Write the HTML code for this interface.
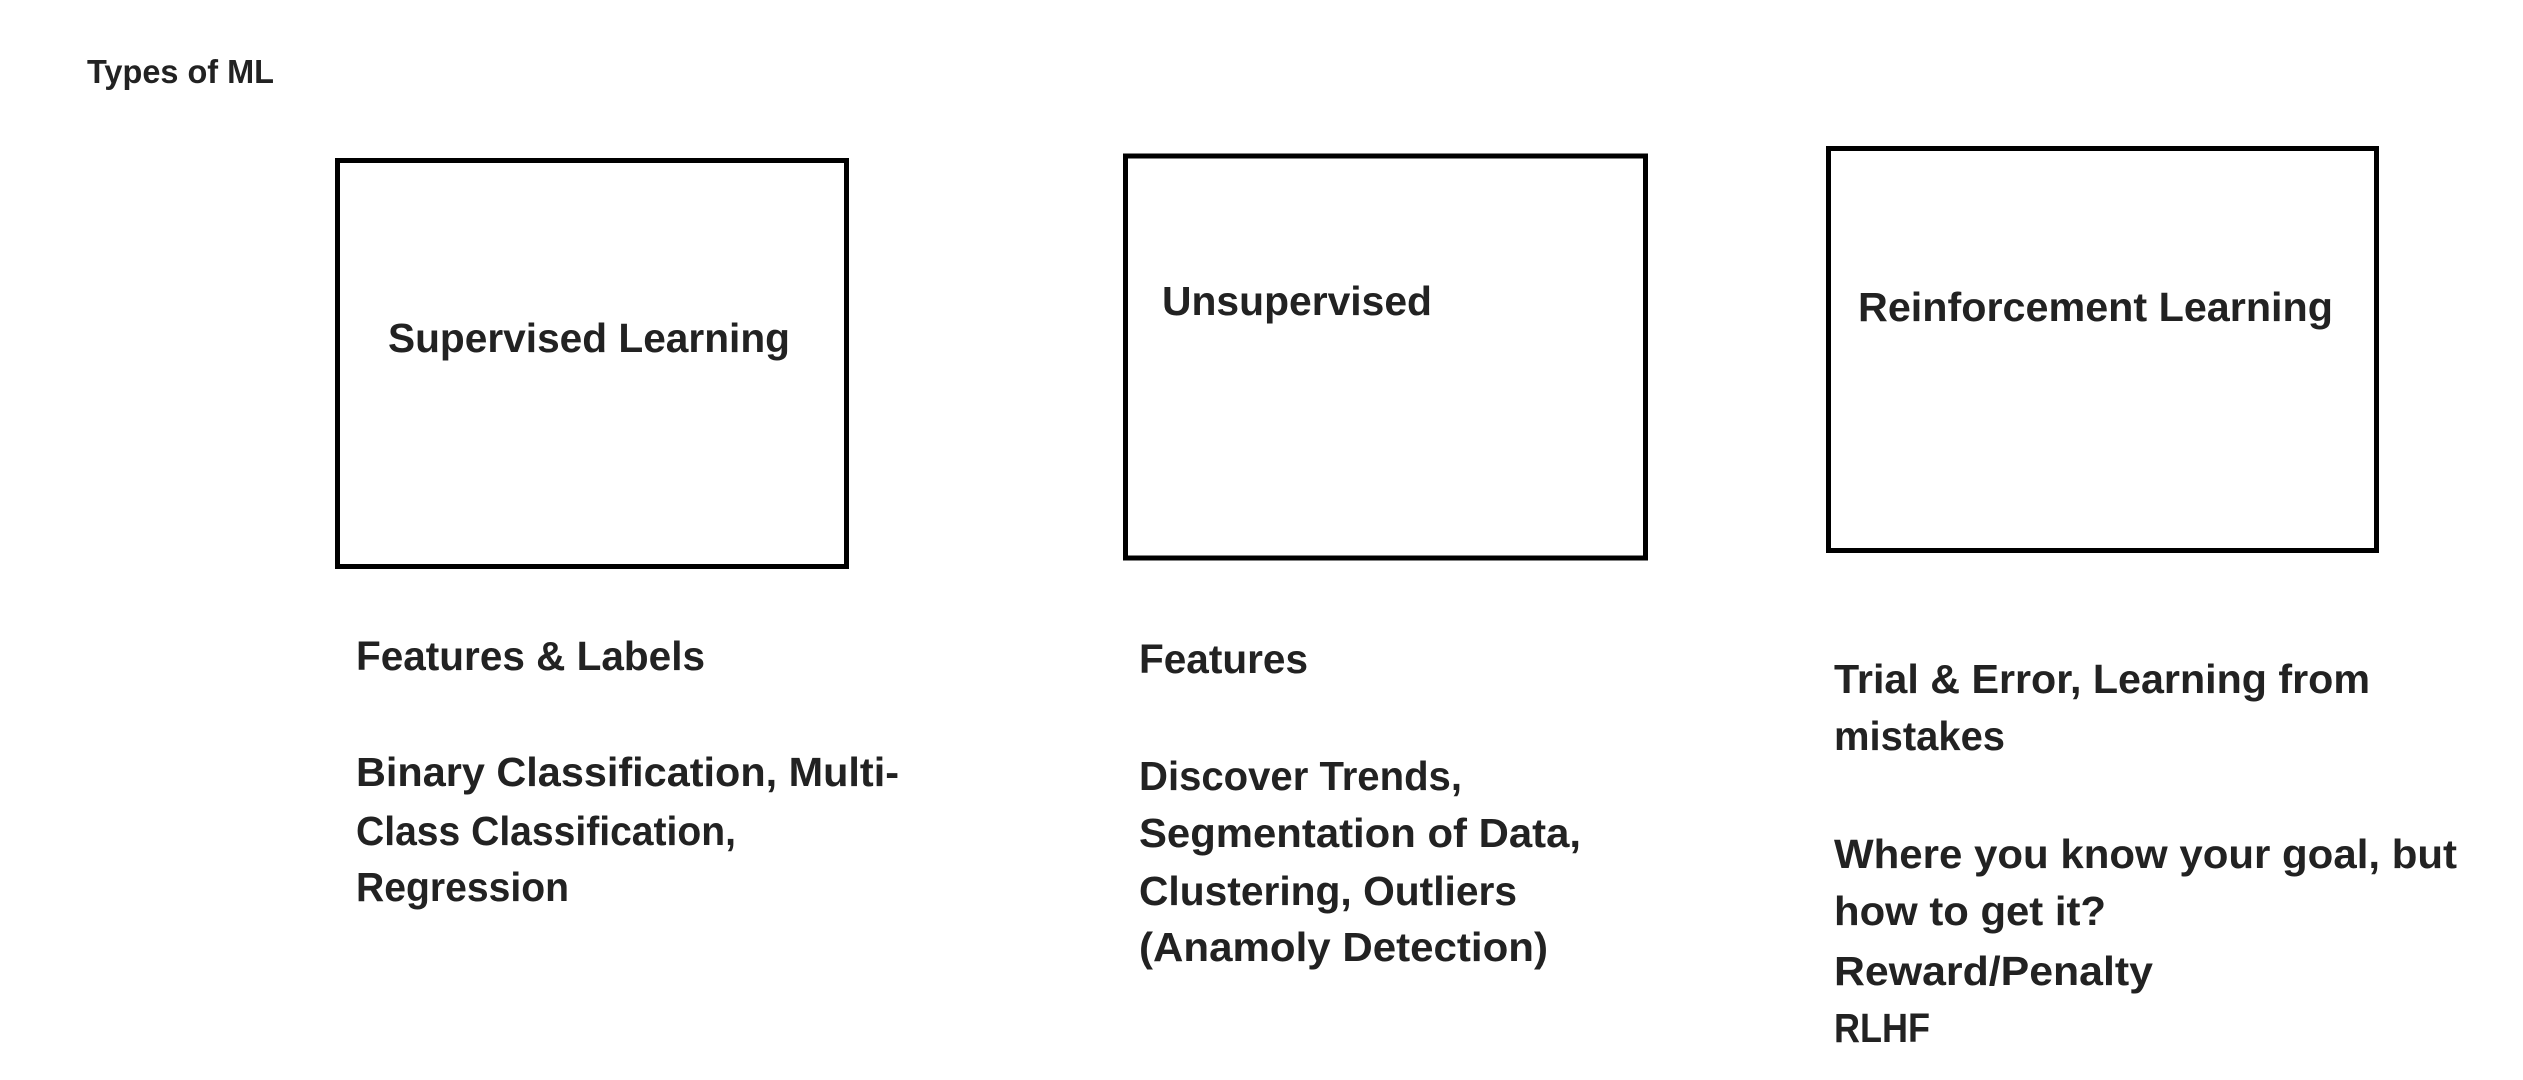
<!DOCTYPE html>
<html><head><meta charset="utf-8"><style>
html,body{margin:0;padding:0;background:#fff;}
svg{display:block;}
text{font-family:"Liberation Sans",sans-serif;font-weight:bold;fill:#222;}
</style></head><body>
<svg width="2523" height="1080" viewBox="0 0 2523 1080" xmlns="http://www.w3.org/2000/svg">
<rect x="0" y="0" width="2523" height="1080" fill="#fff"/>
<text x="87" y="83" font-size="33" textLength="187" lengthAdjust="spacingAndGlyphs">Types of ML</text>

<rect x="337.5" y="160.5" width="509" height="406" fill="none" stroke="#000" stroke-width="5"/>
<rect x="1125.5" y="156" width="520" height="402" fill="none" stroke="#000" stroke-width="5"/>
<rect x="1828.5" y="148.5" width="548" height="402" fill="none" stroke="#000" stroke-width="5"/>

<text x="388" y="352" font-size="41" textLength="402" lengthAdjust="spacingAndGlyphs">Supervised Learning</text>
<text x="1162" y="315" font-size="41" textLength="270" lengthAdjust="spacingAndGlyphs">Unsupervised</text>
<text x="1858" y="321" font-size="41" textLength="475" lengthAdjust="spacingAndGlyphs">Reinforcement Learning</text>

<g font-size="41">
<text x="356" y="670" textLength="349" lengthAdjust="spacingAndGlyphs">Features &amp; Labels</text>
<text x="356" y="786" textLength="543" lengthAdjust="spacingAndGlyphs">Binary Classification, Multi-</text>
<text x="356" y="845" textLength="380" lengthAdjust="spacingAndGlyphs">Class Classification,</text>
<text x="356" y="901" textLength="213" lengthAdjust="spacingAndGlyphs">Regression</text>

<text x="1139" y="673" textLength="169" lengthAdjust="spacingAndGlyphs">Features</text>
<text x="1139" y="790" textLength="323" lengthAdjust="spacingAndGlyphs">Discover Trends,</text>
<text x="1139" y="847" textLength="442" lengthAdjust="spacingAndGlyphs">Segmentation of Data,</text>
<text x="1139" y="905" textLength="378" lengthAdjust="spacingAndGlyphs">Clustering, Outliers</text>
<text x="1139" y="961" textLength="409" lengthAdjust="spacingAndGlyphs">(Anamoly Detection)</text>

<text x="1834" y="693" textLength="536" lengthAdjust="spacingAndGlyphs">Trial &amp; Error, Learning from</text>
<text x="1834" y="750" textLength="171" lengthAdjust="spacingAndGlyphs">mistakes</text>
<text x="1834" y="868" textLength="623" lengthAdjust="spacingAndGlyphs">Where you know your goal, but</text>
<text x="1834" y="925" textLength="272" lengthAdjust="spacingAndGlyphs">how to get it?</text>
<text x="1834" y="985" textLength="319" lengthAdjust="spacingAndGlyphs">Reward/Penalty</text>
<text x="1834" y="1042" textLength="96" lengthAdjust="spacingAndGlyphs">RLHF</text>
</g>
</svg>
</body></html>
